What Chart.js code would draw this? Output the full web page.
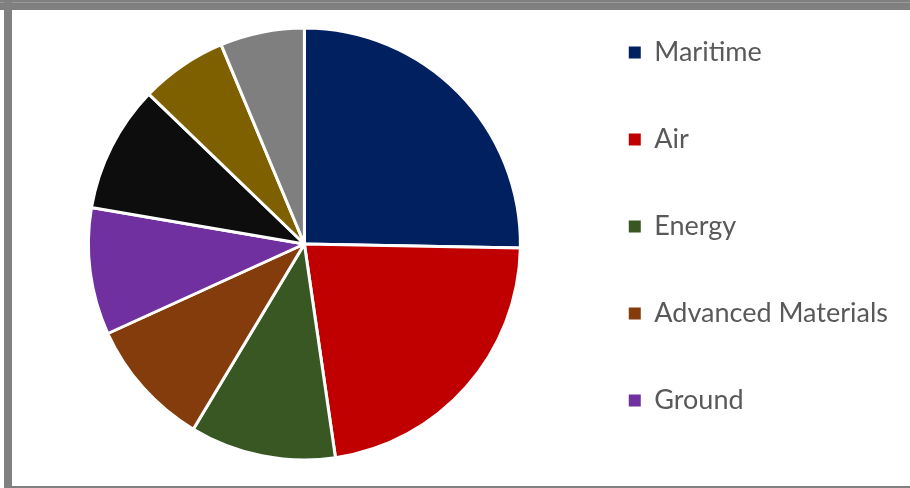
<!DOCTYPE html>
<html>
<head>
<meta charset="utf-8">
<script src="https://cdn.jsdelivr.net/npm/chart.js@4.4.1/dist/chart.umd.min.js"></script>
<style>
  html, body { margin: 0; padding: 0; background: #fff; overflow: hidden; }
  #page { position: relative; width: 910px; height: 488px; overflow: hidden; background: #fff; }
  .bar { position: absolute; background: #808080; }
  #wrap { position: absolute; left: 0; top: -21px; width: 910px; height: 560px; }
</style>
</head>
<body>
<div id="page">
  <div class="bar" style="left:0;top:0;width:910px;height:10px;"></div>
  <div class="bar" style="left:0;top:2px;width:910px;height:1px;background:#9a9a9a;"></div>
  <div class="bar" style="left:4px;top:0;width:8px;height:488px;"></div>
  <div class="bar" style="left:4px;top:486px;width:906px;height:2px;"></div>
  <div id="wrap"><canvas id="pieChart" width="910" height="560"></canvas></div>
</div>
<script>
// sectors, clockwise from 12 o'clock (share in %)
const categories = ['Maritime', 'Air', 'Energy', 'Advanced Materials', 'Ground', 'Space', 'Cyber', 'Other'];
const shares = [25.3, 22.4, 10.9, 9.6, 9.5, 9.5, 6.5, 6.3];
const colors = ['#002060', '#C00000', '#385723', '#843C0C', '#7030A0', '#0D0D0D', '#7F6000', '#7F7F7F'];
// only the first five names fit in the legend box
const legendCount = 5;

const pieConfig = {
  type: 'pie',
  data: {
    labels: categories,
    datasets: [
      {
        data: shares,
        backgroundColor: colors,
        borderColor: '#ffffff',
        borderWidth: 3,
        radius: 216,
      },
    ],
  },
  options: {
    responsive: false,
    animation: false,
    layout: {
      padding: { left: 40, right: 12, top: 0, bottom: 30 },
    },
    plugins: {
      tooltip: { enabled: false },
      legend: {
        position: 'right',
        align: 'start',
        labels: {
          boxWidth: 12,
          boxHeight: 12,
          padding: 60,
          color: '#595959',
          font: { family: 'Lato', size: 27 },
          generateLabels: (chart) => {
            const items = Chart.overrides.pie.plugins.legend.labels.generateLabels(chart);
            items.forEach((item) => {
              item.lineWidth = 0; // plain square, no white outline
              item.strokeStyle = 'rgba(0,0,0,0)';
            });
            return items;
          },
          filter: (item) => item.index < legendCount,
        },
      },
    },
  },
};

new Chart(document.getElementById('pieChart'), pieConfig);
</script>
</body>
</html>
